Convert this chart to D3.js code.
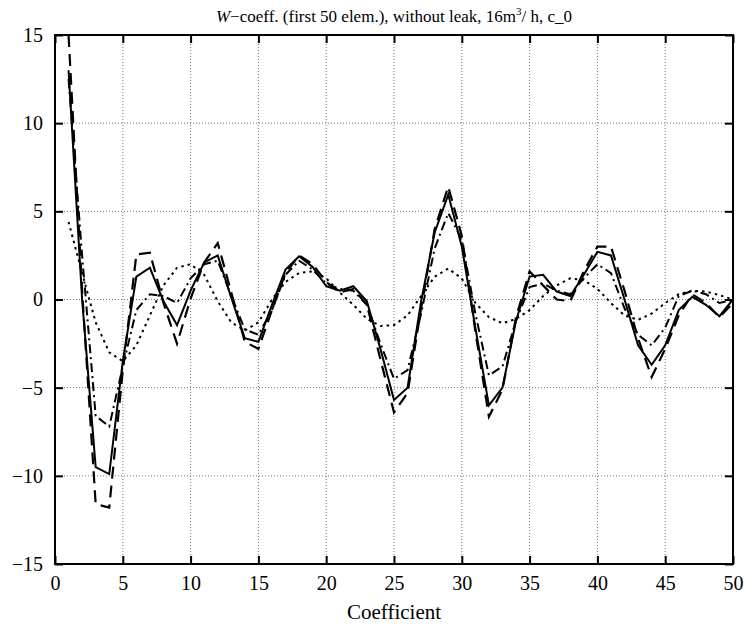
<!DOCTYPE html>
<html lang="en">
<head>
<meta charset="UTF-8">
<title>W-coeff</title>
<style>
  body { margin: 0; background: #fff; }
</style>
</head>
<body>
<script src="https://cdn.jsdelivr.net/npm/d3@7"></script>
<script>
// values, coefficient 1..50
var solid = [13, 0, -9.5, -9.9, -3.5, 1.3, 1.8, -0.1, -1.45, 0.5, 2.1, 2.5, 0.1, -2.2, -2.4, -0.3, 1.7, 2.45, 1.85, 0.75,
  0.5, 0.75, -0.1, -2.8, -5.7, -5.0, -0.1, 3.8, 5.95, 3.0, -1.6, -6.0, -5.0, -1.2, 1.3, 1.4, 0.45, 0.2, 1.4, 2.7,
  2.5, 0, -2.6, -3.7, -2.6, -0.6, 0.15, -0.3, -0.95, 0];
var dashed = [15, 0.5, -11.6, -11.8, -4.0, 2.55, 2.65, -0.2, -2.5, 0.05, 2.1, 3.2, 0.4, -2.4, -2.8, -0.6, 1.5, 2.5, 2.0, 1.0,
  0.4, 0.6, -0.3, -3.4, -6.4, -5.3, -0.5, 4.0, 6.4, 3.6, -1.8, -6.65, -5.1, -1.0, 1.6, 0.8, 0.0, -0.1, 1.6, 3.0,
  3.0, 0.5, -2.2, -4.4, -2.8, -0.9, 0.3, -0.2, -1.0, -0.2];
var dashdot = [12.5, 2.5, -6.6, -7.2, -3.8, -0.6, 0.3, 0.2, -0.2, 1.2, 2.0, 2.2, 0.2, -1.7, -2.0, -0.6, 1.4, 2.2, 1.7, 0.9,
  0.6, 0.5, -0.3, -2.5, -4.5, -4.0, -0.8, 2.9, 4.9, 3.4, -0.8, -4.3, -3.8, -1.2, 0.7, 0.9, 0.5, 0.3, 1.2, 2.0,
  1.5, -0.5, -2.0, -2.6, -1.6, 0.2, 0.5, 0.3, -0.2, 0.0];
var dotted = [4.4, 1.5, -1.3, -3.0, -3.5, -2.6, -0.9, 0.8, 1.8, 2.0, 1.4, -0.1, -1.3, -1.75, -1.3, 0.0, 1.0, 1.5, 1.6, 1.2,
  0.4, -0.3, -1.1, -1.5, -1.45, -0.9, 0.2, 1.3, 1.75, 1.2, -0.2, -1.0, -1.35, -1.1, -0.6, 0.2, 0.8, 1.2, 1.1, 0.6,
  -0.2, -0.9, -1.15, -0.8, -0.2, 0.3, 0.5, 0.45, 0.25, 0.0];
var xTicks = [0, 5, 10, 15, 20, 25, 30, 35, 40, 45, 50];
var yTicks = [-15, -10, -5, 0, 5, 10, 15];

var W = 747, H = 629;
var margin = {top: 35, right: 14, bottom: 65, left: 55};
var width = W - margin.left - margin.right,
    height = H - margin.top - margin.bottom;
var serif = "Liberation Serif";

var svg = d3.select("body").append("svg")
  .attr("width", W)
  .attr("height", H)
  .attr("font-family", serif);

var g = svg.append("g")
  .attr("transform", "translate(" + margin.left + "," + margin.top + ")");

var xScale = d3.scaleLinear().domain([0, 50]).range([0, width]);
var yScale = d3.scaleLinear().domain([-15, 15]).range([height, 0]);

// dotted grid
g.append("g").selectAll("line").data(xTicks.slice(1, -1)).enter().append("line")
  .attr("x1", d => xScale(d)).attr("x2", d => xScale(d))
  .attr("y1", 0).attr("y2", height)
  .attr("stroke", "#777").attr("stroke-width", 1).attr("stroke-dasharray", "1,2");
g.append("g").selectAll("line").data(yTicks.slice(1, -1)).enter().append("line")
  .attr("y1", d => yScale(d)).attr("y2", d => yScale(d))
  .attr("x1", 0).attr("x2", width)
  .attr("stroke", "#777").attr("stroke-width", 1).attr("stroke-dasharray", "1,2");

// axes, ticks pointing inward on all sides
function styleAxis(sel) {
  sel.attr("font-family", serif).attr("font-size", 20);
  sel.select(".domain").remove();
  sel.selectAll(".tick line").attr("stroke", "#000").attr("stroke-width", 2);
  sel.selectAll(".tick text").attr("fill", "#000");
}
var xAxis = g.append("g").attr("transform", "translate(0," + height + ")")
  .call(d3.axisBottom(xScale).tickValues(xTicks).tickSizeInner(-8).tickSizeOuter(0).tickPadding(12));
styleAxis(xAxis);
var xTop = g.append("g")
  .call(d3.axisTop(xScale).tickValues(xTicks).tickSizeInner(-8).tickSizeOuter(0).tickFormat(""));
styleAxis(xTop);
var yAxis = g.append("g")
  .call(d3.axisLeft(yScale).tickValues(yTicks).tickSizeInner(-8).tickSizeOuter(0).tickPadding(12));
styleAxis(yAxis);
yAxis.selectAll(".tick text").text(d => d < 0 ? "\u2212" + Math.abs(d) : d);
var yRight = g.append("g").attr("transform", "translate(" + width + ",0)")
  .call(d3.axisRight(yScale).tickValues(yTicks).tickSizeInner(-8).tickSizeOuter(0).tickFormat(""));
styleAxis(yRight);

// the four series
var line = d3.line()
  .x((d, i) => xScale(i + 1))
  .y(d => yScale(d));

g.append("clipPath").attr("id", "clip")
  .append("rect").attr("width", width).attr("height", height);

var series = [
  {values: dotted, dash: "2.5,4", w: 2},
  {values: dashdot, dash: "9,4,2,4", w: 2},
  {values: dashed, dash: "12,7", w: 2.2},
  {values: solid, dash: null, w: 2}
];
g.append("g").attr("clip-path", "url(#clip)")
  .selectAll("path").data(series).enter().append("path")
  .attr("d", d => line(d.values))
  .attr("fill", "none")
  .attr("stroke", "#000")
  .attr("stroke-width", d => d.w)
  .attr("stroke-dasharray", d => d.dash);

// frame
g.append("rect")
  .attr("width", width).attr("height", height)
  .attr("fill", "none").attr("stroke", "#000").attr("stroke-width", 2);

// title
var title = svg.append("text")
  .attr("x", margin.left + width / 2).attr("y", 22)
  .attr("text-anchor", "middle")
  .attr("font-size", 17);
title.append("tspan").attr("font-style", "italic").text("W");
title.append("tspan").text("\u2212coeff. (first 50 elem.), without leak, 16m");
title.append("tspan").attr("dy", -7).attr("font-size", 11).text("3");
title.append("tspan").attr("dy", 7).text("/ h, c_0");

// x label
svg.append("text")
  .attr("x", margin.left + width / 2).attr("y", 619)
  .attr("text-anchor", "middle")
  .attr("font-size", 21)
  .text("Coefficient");
</script>
</body>
</html>
